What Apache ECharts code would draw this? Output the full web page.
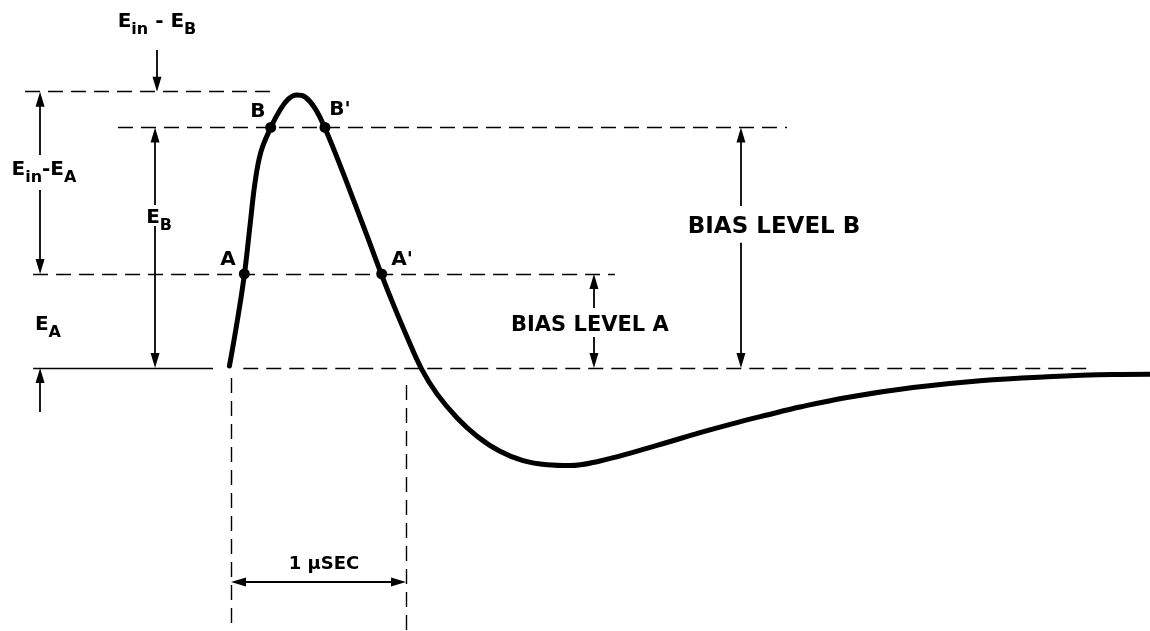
<!DOCTYPE html>
<html><head><meta charset="utf-8">
<script src="https://cdn.jsdelivr.net/npm/echarts@6/dist/echarts.min.js"></script>
<style>html,body{margin:0;padding:0;background:#fff}#c{width:1150px;height:631px}</style>
</head><body><div id="c"></div>
<script>
// ---- DATA (time in µs from pulse start, amplitude in relative units, baseline = 0) ----
const pulseTime = [-0.009, 0.034, 0.076, 0.109, 0.137, 0.171, 0.227, 0.280, 0.327, 0.375, 0.423, 0.480, 0.537, 0.623, 0.709, 0.783, 0.861, 0.931, 1.006, 1.090, 1.177, 1.291, 1.406, 1.537, 1.669, 1.806, 1.937, 2.109, 2.297, 2.491, 2.680, 2.869, 3.063, 3.251, 3.520, 3.897, 4.280, 4.663, 5.040, 5.251];
const pulseVolt = [0.7, 16.4, 33.8, 52.0, 67.3, 78.6, 87.4, 93.8, 97.8, 99.3, 98.6, 94.4, 87.2, 73.8, 59.6, 47.1, 33.8, 22.6, 11.3, -0.5, -9.4, -18.1, -24.8, -30.3, -33.7, -35.2, -35.5, -33.8, -30.7, -27.1, -23.5, -20.2, -17.1, -14.2, -10.7, -7.1, -4.6, -3.2, -2.4, -2.3];
const levelIn = 100.5;    // E_in (peak) level
const levelB = 87.5;      // bias level B
const levelA = 34.2;      // bias level A
const levelBase = 0;      // baseline
const crossNames = ['A', 'B', "B'", "A'"];
const crossTimes = [0.076, 0.227, 0.537, 0.861];
const crossLevels = [levelA, levelB, levelB, levelA];
const spanStart = 0, spanEnd = 1; // 1 µsec reference interval

// ---- axis ranges ----
const T_MIN = -1.32, T_MAX = 5.2514, V_MIN = -95.64, V_MAX = 133.82;
const W = 1150, H = 631;
const PX_X = W / (T_MAX - T_MIN), PX_Y = H / (V_MAX - V_MIN);
const HEAD = [9, 15];
function shorten(from, to, px) {
  const dx = (to[0] - from[0]) * PX_X, dy = (to[1] - from[1]) * PX_Y;
  const L = Math.hypot(dx, dy), k = px / L;
  return [to[0] - (to[0] - from[0]) * k, to[1] - (to[1] - from[1]) * k];
}
function arrow(from, to) { return { coords: [from, shorten(from, to, HEAD[1] / 2)] }; }
function arrow2(a, b) { return { coords: [shorten(b, a, HEAD[1] / 2), shorten(a, b, HEAD[1] / 2)] }; }

const dashedLines = [
  [[-1.177, levelIn], [0.251, levelIn]],
  [[-0.646, levelB], [3.177, levelB]],
  [[-1.131, levelA], [2.194, levelA]],
  [[0.07, levelBase], [4.909, levelBase]],
  [[spanStart, -3.6], [spanStart, V_MIN]],
  [[spanEnd, -6.2], [spanEnd, V_MIN]]
].map(c => ({ coords: c }));
const solidLines = [{ coords: [[-1.131, levelBase], [-0.103, levelBase]] }];
const arrowLines = [
  arrow([-0.423, 115.6], [-0.423, levelIn]),
  arrow([-1.091, 77.5], [-1.091, levelIn]),
  arrow([-1.091, 64.7], [-1.091, levelA]),
  arrow([-0.434, 59.3], [-0.434, levelB]),
  arrow([-0.434, 51.6], [-0.434, levelBase]),
  arrow([-1.091, -16], [-1.091, levelBase]),
  arrow([2.074, 21.8], [2.074, levelA]),
  arrow([2.074, 11.3], [2.074, levelBase]),
  arrow([2.914, 58.9], [2.914, levelB]),
  arrow([2.914, 45.5], [2.914, levelBase])
];
const spanLine = [arrow2([spanStart, -77.8], [spanEnd, -77.8])];

const FONT = 'DejaVu Sans';
const INK = '#000';
const base = { fontWeight: 'bold', fontFamily: FONT, color: INK, opacity: 1 };
const rich = {
  e: Object.assign({ fontSize: 20, verticalAlign: 'bottom', padding: [0, 0, 6, 0] }, base),
  s: Object.assign({ fontSize: 16, verticalAlign: 'bottom' }, base),
  L: Object.assign({ fontSize: 20 }, base),
  bigA: Object.assign({ fontSize: 21 }, base),
  bigB: Object.assign({ fontSize: 23 }, base),
  u: Object.assign({ fontSize: 18 }, base)
};
const textItems = [
  { value: [-0.423, 124.7], f: '{e|E}{s|in}{e| - E}{s|B}' },
  { value: [-1.069, 70.9], f: '{e|E}{s|in}{e|-E}{s|A}' },
  { value: [-0.411, 53.45], f: '{e|E}{s|B}' },
  { value: [-1.046, 14.5], f: '{e|E}{s|A}' },
  { value: [-0.017, 39.3], f: '{L|A}' },
  { value: [0.154, 93.1], f: '{L|B}' },
  { value: [0.623, 93.8], f: "{L|B'}" },
  { value: [0.977, 39.3], f: "{L|A'}" },
  { value: [2.051, 15.3], f: '{bigA|BIAS LEVEL A}' },
  { value: [3.103, 51.1], f: '{bigB|BIAS LEVEL B}' },
  { value: [0.531, -71.3], f: '{u|1 μSEC}' }
];

const chart = echarts.init(document.getElementById('c'), null, { renderer: 'canvas' });
chart.setOption({
  animation: false,
  backgroundColor: '#fff',
  grid: { left: 0, right: 0, top: 0, bottom: 0 },
  xAxis: { type: 'value', min: T_MIN, max: T_MAX, show: false },
  yAxis: { type: 'value', min: V_MIN, max: V_MAX, show: false },
  series: [
    { type: 'lines', coordinateSystem: 'cartesian2d', silent: true, z: 1,
      lineStyle: { color: INK, width: 1.4, type: [15, 8], opacity: 1 }, symbol: 'none', data: dashedLines },
    { type: 'lines', coordinateSystem: 'cartesian2d', silent: true, z: 1,
      lineStyle: { color: INK, width: 1.4, opacity: 1 }, symbol: 'none', data: solidLines },
    { type: 'lines', coordinateSystem: 'cartesian2d', silent: true, z: 2,
      lineStyle: { color: INK, width: 1.8, opacity: 1 }, symbol: ['none', 'triangle'], symbolSize: [HEAD, HEAD], data: arrowLines },
    { type: 'lines', coordinateSystem: 'cartesian2d', silent: true, z: 2,
      lineStyle: { color: INK, width: 1.8, opacity: 1 }, symbol: ['triangle', 'triangle'], symbolSize: [HEAD, HEAD], data: spanLine },
    { type: 'line', z: 5, data: pulseTime.map((t, i) => [t, pulseVolt[i]]),
      smooth: 0.4, showSymbol: false, symbol: 'none',
      lineStyle: { color: INK, width: 5, cap: 'round', join: 'round' } },
    { type: 'scatter', z: 8, symbol: 'circle', symbolSize: 11, itemStyle: { color: INK, opacity: 1 },
      data: crossTimes.map((t, i) => ({ name: crossNames[i], value: [t, crossLevels[i]] })) },
    { type: 'scatter', z: 9, symbol: 'circle', symbolSize: 1, itemStyle: { color: 'rgba(0,0,0,0)', opacity: 1 },
      label: { show: true, position: 'inside', color: INK, opacity: 1, rich: rich, formatter: p => p.data.f },
      data: textItems.map(d => ({ value: d.value, f: d.f })) }
  ]
});
</script></body></html>
